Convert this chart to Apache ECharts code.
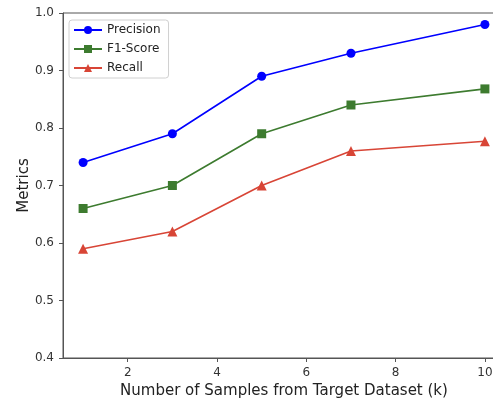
<!DOCTYPE html>
<html>
<head>
<meta charset="utf-8">
<script src="https://cdn.jsdelivr.net/npm/echarts@6/dist/echarts.min.js"></script>
<style>
html,body{margin:0;padding:0;background:#fff;overflow:hidden;}
#wrap{width:493px;height:401px;overflow:hidden;position:relative;}
#chart{width:530px;height:401px;}
</style>
</head>
<body>
<div id="wrap"><div id="chart"></div></div>
<script>
const samples = [1, 3, 5, 7, 10];
const precision = [0.74, 0.79, 0.89, 0.93, 0.98];
const f1Score = [0.66, 0.70, 0.79, 0.84, 0.868];
const recall = [0.59, 0.62, 0.70, 0.76, 0.777];
const xTicks = [2, 4, 6, 8, 10];

const pairs = (ys) => samples.map((x, i) => [x, ys[i]]);
const font = 'DejaVu Sans';

const chart = echarts.init(document.getElementById('chart'));
chart.setOption({
  animation: false,
  backgroundColor: '#fff',
  grid: {left: 63, top: 13, width: 442, height: 345, show: true, borderColor: '#555', borderWidth: 1,
    outerBoundsMode: 'none', containLabel: false},
  legend: {
    left: 69, top: 20, orient: 'vertical',
    itemWidth: 28, itemHeight: 10, itemGap: 5,
    padding: [3, 8, 3, 4],
    borderColor: '#d0d0d0', borderWidth: 1, borderRadius: 3,
    textStyle: {fontFamily: font, fontSize: 12, color: '#222', lineHeight: 14},
    data: ['Precision', 'F1-Score', 'Recall']
  },
  xAxis: {
    type: 'value', min: 0.55, max: 10.45,
    name: 'Number of Samples from Target Dataset (k)', nameLocation: 'middle', nameGap: 26,
    nameTextStyle: {fontFamily: font, fontSize: 15, color: '#222'},
    axisLine: {lineStyle: {color: '#555', width: 1}},
    axisTick: {show: true, length: 4, customValues: xTicks, lineStyle: {color: '#555'}},
    axisLabel: {customValues: xTicks, fontFamily: font, fontSize: 12, color: '#333', margin: 9},
    splitLine: {show: false}
  },
  yAxis: {
    type: 'value', min: 0.4, max: 1.0, interval: 0.1,
    name: 'Metrics', nameLocation: 'middle', nameGap: 31, nameRotate: 90, nameMoveOverlap: false,
    nameTextStyle: {fontFamily: font, fontSize: 15, color: '#222'},
    axisLine: {show: true, lineStyle: {color: '#555', width: 1}},
    axisTick: {show: true, length: 4, lineStyle: {color: '#555'}},
    axisLabel: {fontFamily: font, fontSize: 12, color: '#333', margin: 9,
      formatter: (v) => v.toFixed(1)},
    splitLine: {show: false}
  },
  series: [
    {name: 'Precision', type: 'line', data: pairs(precision), symbol: 'circle', symbolSize: 9,
      lineStyle: {width: 1.6, color: '#0000ff'}, itemStyle: {color: '#0000ff'}},
    {name: 'F1-Score', type: 'line', data: pairs(f1Score), symbol: 'rect', symbolSize: 9,
      lineStyle: {width: 1.6, color: '#3d7b2f'}, itemStyle: {color: '#3d7b2f'}},
    {name: 'Recall', type: 'line', data: pairs(recall), symbol: 'triangle', symbolSize: 10,
      lineStyle: {width: 1.6, color: '#d84536'}, itemStyle: {color: '#d84536'}}
  ]
});
</script>
</body>
</html>
